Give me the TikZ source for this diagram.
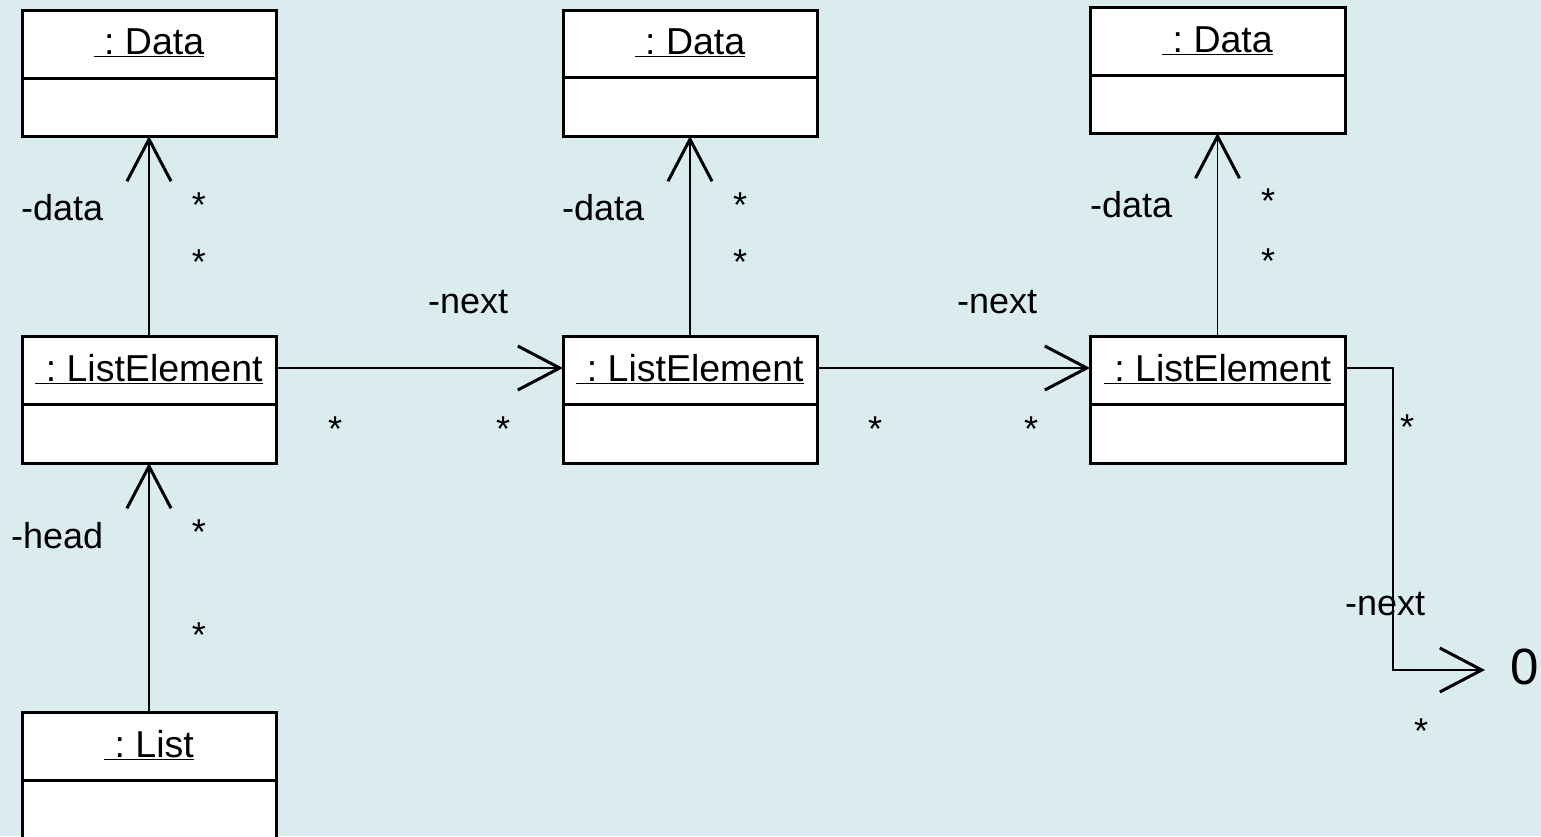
\documentclass[tikz,border=0pt]{standalone}
\usepackage{fontspec}
\setmainfont{Liberation Sans}
\usetikzlibrary{arrows.meta}
\definecolor{bg}{RGB}{218,236,238}
\frenchspacing
\begin{document}
\begin{tikzpicture}[x=1pt,y=-1pt,
  obj/.style={draw, line width=3pt, fill=white, minimum width=254pt, inner sep=0pt, outer sep=0pt},
  divline/.style={line width=3pt},
  ttl/.style={font=\fontsize{37.5}{40}\selectfont, inner sep=0pt, anchor=base},
  lbl/.style={font=\fontsize{36}{40}\selectfont, inner sep=0pt, anchor=base west},
  star/.style={font=\fontsize{36}{40}\selectfont, inner sep=0pt, anchor=base},
  assoc/.style={line width=1.5pt, -{Straight Barb[length=42pt,width=44pt,line width=3pt]}},
]
\fill[bg] (0,0) rectangle (1541,836);
\clip (0,0) rectangle (1541,836);
\useasboundingbox (0,0) rectangle (1541,836);

% Data objects
\node[obj, minimum height=126pt] (d1) at (149,73) {};
\draw[divline] (d1.west |- 0,78) -- (d1.east |- 0,78);
\node[ttl] (d1t) at (149,54) {\underline{\ : Data}};

\node[obj, minimum height=126pt] (d2) at (690,73) {};
\draw[divline] (d2.west |- 0,77) -- (d2.east |- 0,77);
\node[ttl] (d2t) at (690,54) {\underline{\ : Data}};

\node[obj, minimum height=126pt, minimum width=255pt] (d3) at (1217.5,70) {};
\draw[divline] (d3.west |- 0,75) -- (d3.east |- 0,75);
\node[ttl] (d3t) at (1217.5,52) {\underline{\ : Data}};

% ListElement objects
\node[obj, minimum height=127pt] (le1) at (149,399.5) {};
\draw[divline] (le1.west |- 0,404) -- (le1.east |- 0,404);
\node[ttl] (le1t) at (149,381) {\underline{\ : ListElement}};

\node[obj, minimum height=127pt] (le2) at (690,399.5) {};
\draw[divline] (le2.west |- 0,404) -- (le2.east |- 0,404);
\node[ttl] (le2t) at (690,381) {\underline{\ : ListElement}};

\node[obj, minimum height=127pt, minimum width=255pt] (le3) at (1217.5,399.5) {};
\draw[divline] (le3.west |- 0,404) -- (le3.east |- 0,404);
\node[ttl] (le3t) at (1217.5,381) {\underline{\ : ListElement}};

% List object
\node[obj, minimum height=138pt] (l) at (149,781) {};
\draw[divline] (l.west |- 0,780) -- (l.east |- 0,780);
\node[ttl] (lt) at (149,757) {\underline{\ : List}};

% terminal
\node[font=\fontsize{51}{56}\selectfont, inner sep=0pt] (zero) at (1525,667) {0};
\coordinate (nend) at (1485,670);

% connectors
\draw[assoc] (le1.north) -- (d1.south);
\draw[assoc] (le2.north) -- (d2.south);
\draw[assoc] (le3.north) -- (d3.south);
\draw[assoc] (l.north) -- (le1.south);
\draw[assoc] (le1.east |- 0,368) -- (le2.west |- 0,368);
\draw[assoc] (le2.east |- 0,368) -- (le3.west |- 0,368);
\draw[assoc] (le3.east |- 0,368) -| (1393,670) -- (nend);

% role labels
\node[lbl] (r1) at (21,220) {-data};
\node[lbl] (r2) at (562,220) {-data};
\node[lbl] (r3) at (1090,217) {-data};
\node[lbl] (r4) at (428,313) {-next};
\node[lbl] (r5) at (957,313) {-next};
\node[lbl] (r6) at (11,548) {-head};
\node[lbl] (r7) at (1345,615) {-next};

% multiplicities
\node[star] (s1) at (199,217) {*};
\node[star] (s2) at (199,274) {*};
\node[star] (s3) at (740,217) {*};
\node[star] (s4) at (740,274) {*};
\node[star] (s5) at (1268,213) {*};
\node[star] (s6) at (1268,273) {*};
\node[star] (s7) at (335,441) {*};
\node[star] (s8) at (503,441) {*};
\node[star] (s9) at (875,441) {*};
\node[star] (s10) at (1031,441) {*};
\node[star] (s11) at (199,544) {*};
\node[star] (s12) at (199,647) {*};
\node[star] (s13) at (1407,439) {*};
\node[star] (s14) at (1421,743) {*};
\end{tikzpicture}
\end{document}
